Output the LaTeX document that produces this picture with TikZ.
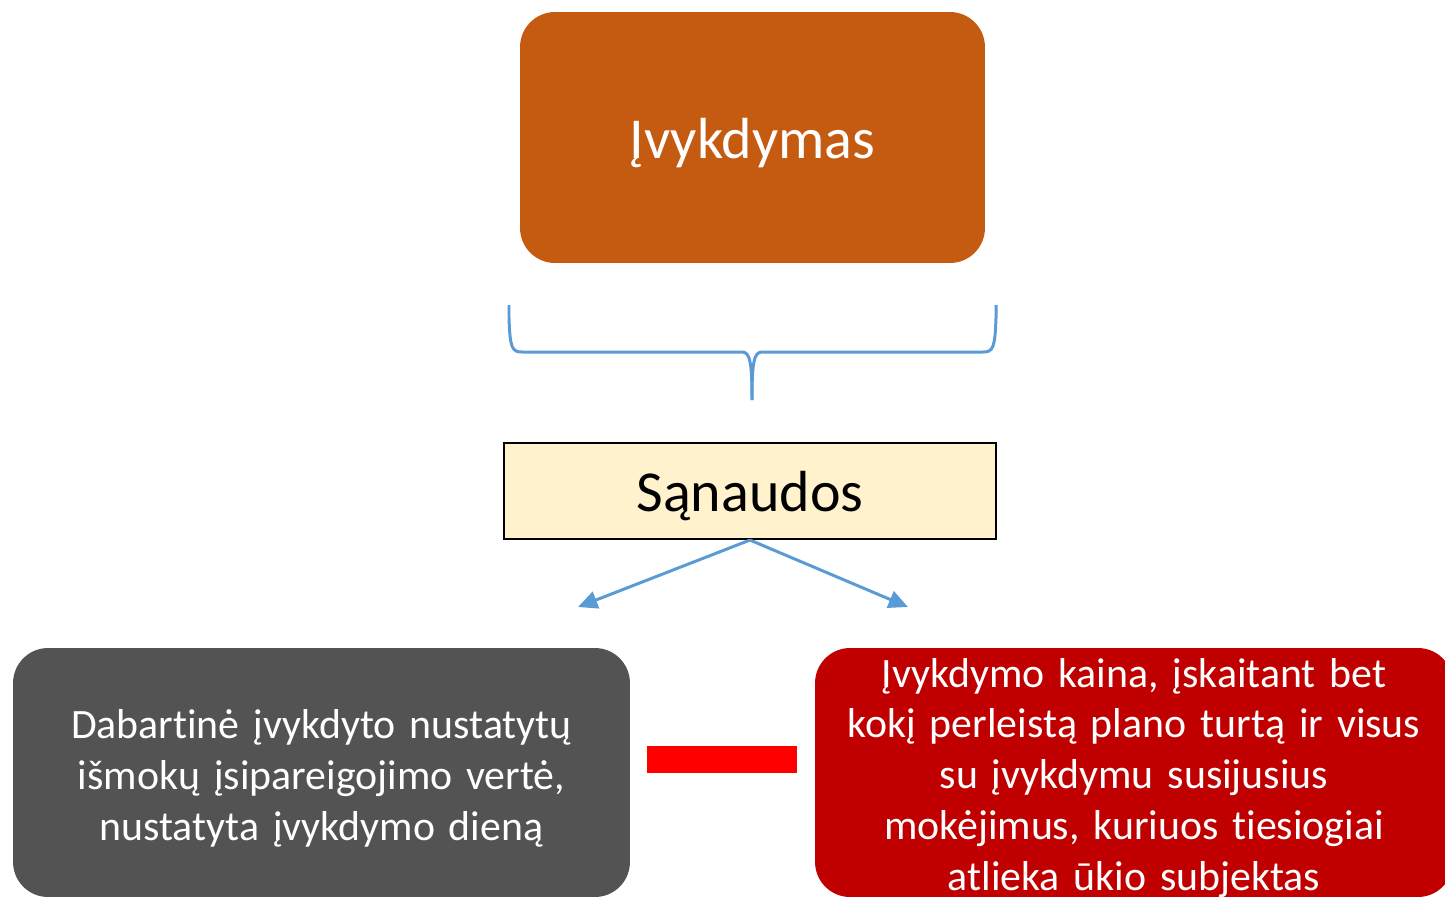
\documentclass[tikz,border=0pt]{standalone}
\usepackage{fontspec}
\setmainfont{Carlito}[Ligatures=CommonOff]
\usetikzlibrary{arrows.meta}

\definecolor{orangebox}{RGB}{197,90,17}
\definecolor{graybox}{RGB}{83,83,83}
\definecolor{redbox}{RGB}{192,0,0}
\definecolor{yellowbox}{RGB}{255,242,204}
\definecolor{bracecol}{RGB}{91,155,213}

\newcommand{\nuleisk}[1]{\raisebox{-3pt}[\height][\depth]{#1}}

\begin{document}
\begin{tikzpicture}[x=0.02cm, y=-0.02cm,
    block/.style={rounded corners=0.7cm, inner sep=0pt},
    words/.style={text=white, align=center, inner sep=0pt},
    small/.style={font=\fontsize{23.8}{29}\selectfont},
    big/.style={font=\fontsize{33}{40}\selectfont},
    link/.style={draw=bracecol, line width=1.7pt, -{Triangle[length=11pt, width=10pt]}}]
        \clip (0,0) rectangle (1445,897);

        \node[block, big, text=white, fill=orangebox, minimum width=9.3cm, minimum height=5.02cm] (ivykdymas) at (752.5,137.5) {\nuleisk{Įvykdymas}};

        \draw[bracecol, line width=1.7pt] (509,305) -- (509,318) .. controls (510,348) and (512,352) .. (522,352)
            -- (742,352) .. controls (750,352) and (752,362) .. (752,400);
        \draw[bracecol, line width=1.7pt] (996,305) -- (996,318) .. controls (995,348) and (993,352) .. (983,352)
            -- (762,352) .. controls (754,352) and (752,362) .. (752,400);

        \node[big, draw=black, line width=1.2pt, fill=yellowbox, minimum width=9.84cm, minimum height=1.92cm, inner sep=0pt] (sanaudos) at (750,491) {\nuleisk{Sąnaudos}};

        \coordinate (kaire) at (578,607);
        \coordinate (desine) at (908,607);
        \draw[link] (sanaudos.south) -- (kaire);
        \draw[link] (sanaudos.south) -- (desine);

        \node[block, fill=graybox, minimum width=12.34cm, minimum height=4.98cm] (verte) at (321.5,772.5) {};
        \node[words, small, text width=12cm] (vertetekstas) at (321.5,778) {Dabartinė įvykdyto nustatytų\\išmokų įsipareigojimo vertė,\\nustatyta įvykdymo dieną};

        \node[fill=red, minimum width=3cm, minimum height=0.54cm, inner sep=0pt] (minus) at (722,759.5) {};

        \node[block, fill=redbox, minimum width=12.76cm, minimum height=4.98cm] (kaina) at (1134,772.5) {};
        \node[words, small, text width=12.4cm] (kainatekstas) at (1134,778) {Įvykdymo kaina, įskaitant bet\\kokį perleistą plano turtą ir visus\\su įvykdymu susijusius\\mokėjimus, kuriuos tiesiogiai\\atlieka ūkio subjektas};
\end{tikzpicture}
\end{document}
